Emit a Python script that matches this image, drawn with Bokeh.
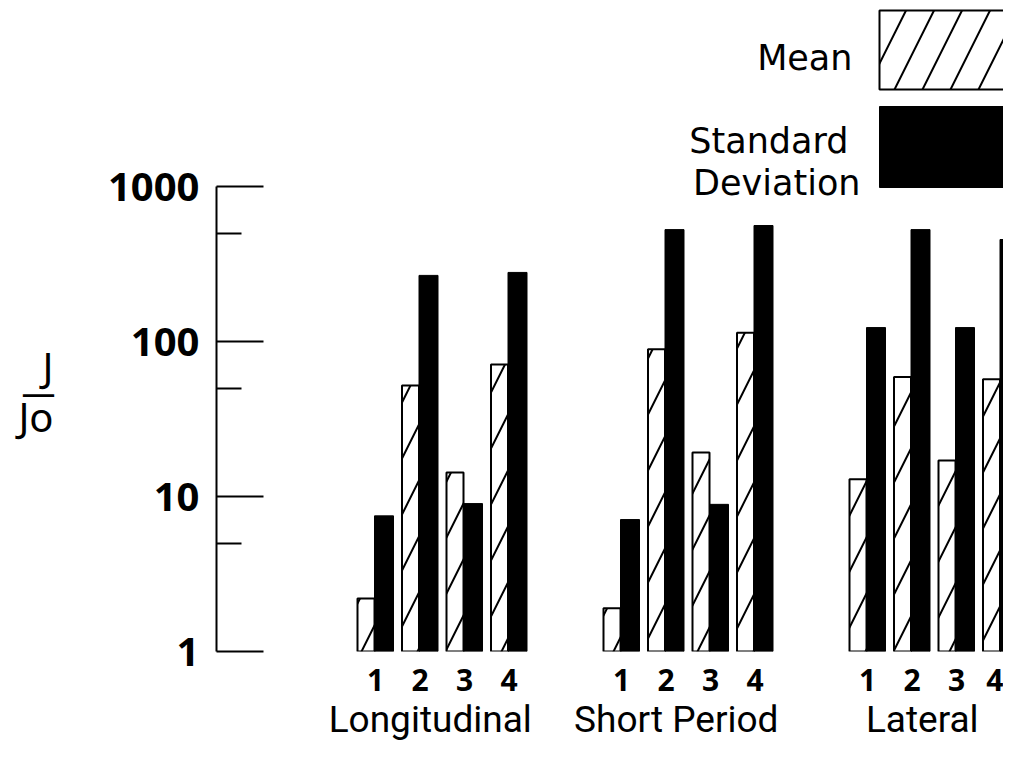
from bokeh.plotting import figure
from bokeh.models import (Range1d, FixedTicker, NumeralTickFormatter, LinearAxis,
                          BoxAnnotation, Label)
from bokeh.embed import file_html
from bokeh.resources import INLINE

# ---------------- data ----------------
groups = ["Longitudinal", "Short Period", "Lateral"]
configs = ["1", "2", "3", "4"]

long_mean = [2.2, 52, 14.3, 71]
long_std = [7.5, 267, 9.0, 279]
sp_mean = [1.9, 89, 19.2, 114]
sp_std = [7.1, 527, 8.9, 560]
lat_mean = [12.9, 59, 17.1, 57]
lat_std = [123, 527, 123, 455]

y_ticks = [1, 10, 100, 1000]
y_minor_ticks = [5, 50, 500]
legend_labels = ["Mean", "Standard", "Deviation"]
y_label_num = "J"
y_label_bar = "\u2014"
y_label_den = "Jo"

means = [long_mean, sp_mean, lat_mean]
stds = [long_std, sp_std, lat_std]

# ---------------- layout helpers ----------------
W, H = 1003, 744
FRAME_L = 216          # canvas px of the y axis line
BASE_Y = 651           # canvas y of value 1
PX_DEC = 155           # px per decade


def xdat(cx):
    return cx - FRAME_L


def ydat(cy):
    return round(10 ** ((BASE_Y - cy) / PX_DEC), 6)


FIRST_C = xdat(375)
GROUP_STEP = 246
PAIR_STEP = 44.5

p = figure(width=W, height=H, y_axis_type="log",
           x_range=Range1d(0, W - FRAME_L), y_range=Range1d(1, ydat(0)),
           output_backend="svg", toolbar_location=None,
           x_axis_location=None,
           min_border_left=FRAME_L, min_border_right=0, min_border_top=0,
           min_border_bottom=H - BASE_Y)
p.xgrid.visible = False
p.ygrid.visible = False
p.outline_line_color = None
p.background_fill_color = "white"

centers, c_labels = [], []
m_left, m_right, m_top = [], [], []
s_left, s_right, s_top = [], [], []
g_centers = []
for gi, g in enumerate(groups):
    cs = []
    for ci, c in enumerate(configs):
        cx = FIRST_C + gi * GROUP_STEP + ci * PAIR_STEP
        cs.append(cx)
        centers.append(cx)
        c_labels.append(c)
        m_left.append(cx - 18)
        m_right.append(cx - 1)
        m_top.append(means[gi][ci])
        s_left.append(cx - 1)
        s_right.append(cx + 18)
        s_top.append(stds[gi][ci])
    g_centers.append((cs[0] + cs[-1]) / 2 - 12)

p.quad(left=m_left, right=m_right, bottom=1, top=m_top,
       fill_color="white", line_color="black", line_width=2,
       hatch_pattern="/", hatch_scale=56, hatch_weight=2, hatch_color="black")
p.quad(left=s_left, right=s_right, bottom=1, top=s_top,
       fill_color="black", line_color="black", line_width=1)

# ---------------- y axis ----------------
ya = p.yaxis[0]
ya.ticker = FixedTicker(ticks=y_ticks, minor_ticks=y_minor_ticks)
ya.formatter = NumeralTickFormatter(format="0")
ya.bounds = (1, 1000)
ya.axis_line_width = 2
ya.axis_line_color = "black"
ya.major_tick_in = 47
ya.major_tick_out = 0
ya.minor_tick_in = 25
ya.minor_tick_out = 0
ya.major_tick_line_width = 2
ya.minor_tick_line_width = 2
ya.major_tick_line_color = "black"
ya.minor_tick_line_color = "black"
ya.major_label_text_font = "Noto Sans"
ya.major_label_text_font_style = "bold"
ya.major_label_text_font_size = "40px"
ya.major_label_text_color = "black"
ya.major_label_standoff = 17


def label_axis(ticks, texts, size, standoff):
    a = LinearAxis(ticker=FixedTicker(ticks=ticks),
                   major_label_overrides={t: s for t, s in zip(ticks, texts)})
    a.axis_line_color = None
    a.major_tick_line_color = None
    a.minor_tick_line_color = None
    a.major_tick_in = 0
    a.major_tick_out = 0
    a.major_label_text_font = "Noto Sans"
    a.major_label_text_font_size = size
    a.major_label_text_color = "black"
    a.major_label_standoff = standoff
    return a


# outer left axes carrying the J / Jo fraction label
yl = label_axis([ydat(366), ydat(416)], [y_label_num, y_label_den], "40px", 51)
p.add_layout(yl, "left")
yb = label_axis([ydat(391)], [y_label_bar], "34px", -40)
p.add_layout(yb, "left")

# ---------------- x axes ----------------
ax1 = LinearAxis(ticker=FixedTicker(ticks=centers),
                 major_label_overrides={c: l for c, l in zip(centers, c_labels)})
ax2 = LinearAxis(ticker=FixedTicker(ticks=g_centers),
                 major_label_overrides={c: l for c, l in zip(g_centers, groups)})
for ax, font, size, style, so in [(ax1, "Noto Sans", "30px", "bold", 17),
                                  (ax2, "Roboto", "37px", "normal", 4)]:
    ax.axis_line_color = None
    ax.major_tick_line_color = None
    ax.minor_tick_line_color = None
    ax.major_tick_out = 0
    ax.major_tick_in = 0
    ax.major_label_text_font = font
    ax.major_label_text_font_size = size
    ax.major_label_text_font_style = style
    ax.major_label_text_color = "black"
    ax.major_label_standoff = so
p.add_layout(ax1, "below")
p.add_layout(ax2, "below")

# ---------------- legend ----------------
p.add_layout(BoxAnnotation(left=xdat(879), right=xdat(1040), top=ydat(10), bottom=ydat(89),
                           fill_color="white", fill_alpha=1, line_color="black",
                           line_alpha=1, line_width=2, hatch_pattern="/", hatch_scale=56,
                           hatch_weight=2, hatch_color="black"))
p.add_layout(BoxAnnotation(left=xdat(879), right=xdat(1040), top=ydat(106), bottom=ydat(187),
                           fill_color="black", fill_alpha=1, line_color="black",
                           line_alpha=1, line_width=1))
for txt, cx, cy in zip(legend_labels, [852, 848, 860], [57, 140, 182]):
    p.add_layout(Label(x=xdat(cx), y=ydat(cy), text=txt, text_align="right",
                       text_baseline="alphabetic", text_font="DejaVu Sans",
                       text_font_size="35px", text_color="black"))

open("out.html", "w").write(file_html(p, INLINE))
